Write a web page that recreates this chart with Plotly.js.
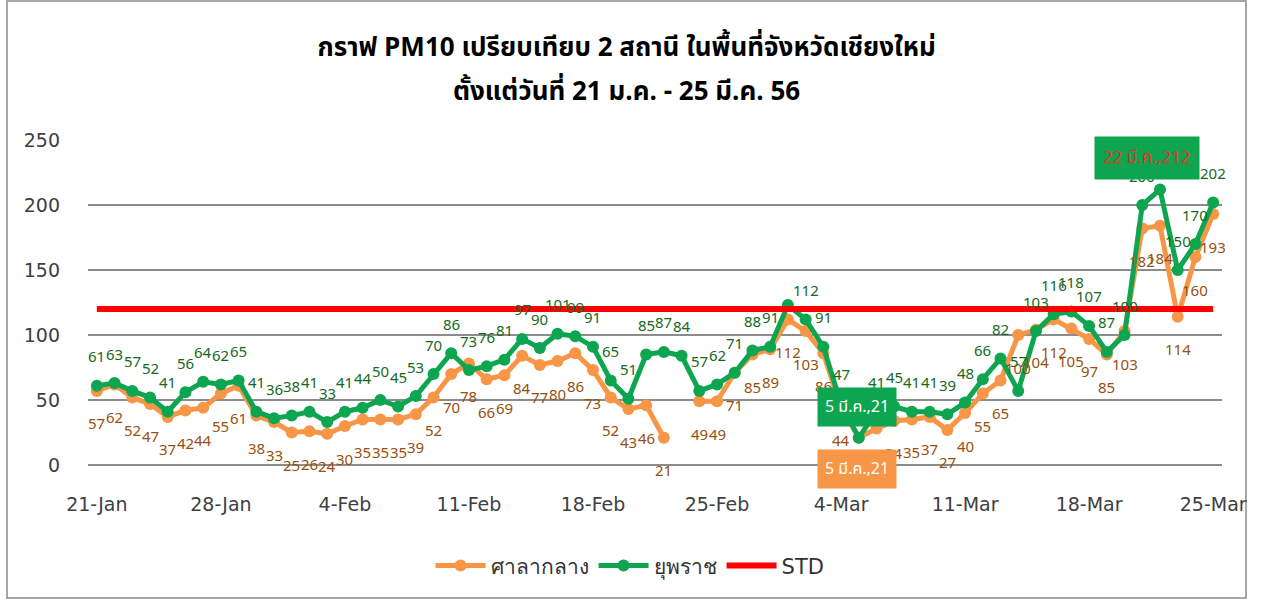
<!DOCTYPE html>
<html><head><meta charset="utf-8">
<script src="https://cdn.plot.ly/plotly-3.0.1.min.js"></script>
<style>html,body{margin:0;padding:0;background:#fff}#chart{width:1261px;height:601px}</style>
</head><body><div id="chart"></div>
<script>
const dates = [
 '2013-01-21','2013-01-22','2013-01-23','2013-01-24','2013-01-25','2013-01-26','2013-01-27','2013-01-28','2013-01-29','2013-01-30','2013-01-31',
 '2013-02-01','2013-02-02','2013-02-03','2013-02-04','2013-02-05','2013-02-06','2013-02-07','2013-02-08','2013-02-09','2013-02-10',
 '2013-02-11','2013-02-12','2013-02-13','2013-02-14','2013-02-15','2013-02-16','2013-02-17','2013-02-18','2013-02-19','2013-02-20',
 '2013-02-21','2013-02-22','2013-02-23','2013-02-24','2013-02-25','2013-02-26','2013-02-27','2013-02-28',
 '2013-03-01','2013-03-02','2013-03-03','2013-03-04','2013-03-05','2013-03-06','2013-03-07','2013-03-08','2013-03-09','2013-03-10',
 '2013-03-11','2013-03-12','2013-03-13','2013-03-14','2013-03-15','2013-03-16','2013-03-17','2013-03-18','2013-03-19','2013-03-20',
 '2013-03-21','2013-03-22','2013-03-23','2013-03-24','2013-03-25'
];
// ศาลากลาง
const salaklang = [
 57,62,52,47,37,42,44,55,61,
 38,33,25,26,24,
 30,35,35,35,39,52,70,
 78,66,69,84,77,80,86,73,52,43,
 46,21,null,49,49,71,85,89,
 112,103,86,44,21,
 28,34,35,37,27,40,55,65,
 100,104,112,105,97,85,103,
 182,184,114,160,193
];
// ยุพราช
const yupparat = [
 61,63,57,52,41,56,64,62,65,
 41,36,38,41,33,
 41,44,50,45,53,70,86,
 73,76,81,97,90,101,99,91,65,51,
 85,87,84,57,62,71,88,91,
 123,112,91,47,21,
 41,45,41,41,39,48,66,82,
 57,103,116,118,107,87,100,
 200,212,150,170,202
];
const stdValue = 120;
const seriesNames = ['ศาลากลาง','ยุพราช','STD'];
const titleLines = ['กราฟ PM10 เปรียบเทียบ 2 สถานี ในพื้นที่จังหวัดเชียงใหม่','ตั้งแต่วันที่ 21 ม.ค. - 25 มี.ค. 56'];
const tickDates = ['2013-01-21'];
// points whose own number label is not shown (replaced by callout or hidden)
const hiddenGreenLabels = [39, 43, 60];
const hiddenOrangeLabels = [43];
const callouts = [
 {series:'green', idx:43, text:'5 มี.ค.,21'},
 {series:'orange', idx:43, text:'5 มี.ค.,21'},
 {series:'green', idx:60, text:'22 มี.ค.,212'}
];

const ORANGE = '#F79646', GREEN = '#0DA54F', RED = '#FF0000';
const ORANGE_TXT = '#97500F', GREEN_TXT = '#16691E';
const FONT = "Tahoma, 'Noto Sans Thai', 'Noto Sans', 'DejaVu Sans', sans-serif";
const AXFONT = "'DejaVu Sans', Tahoma, sans-serif";

const traces = [
 {x: dates, y: salaklang, name: seriesNames[0], type:'scatter', mode:'lines+markers',
  line:{color:ORANGE, width:5}, marker:{color:ORANGE, size:12}, connectgaps:false, hoverinfo:'x+y'},
 {x: dates, y: yupparat, name: seriesNames[1], type:'scatter', mode:'lines+markers',
  line:{color:GREEN, width:5}, marker:{color:GREEN, size:12}, hoverinfo:'x+y'},
 {x: [dates[0], dates[dates.length-1]], y:[stdValue, stdValue], name: seriesNames[2], type:'scatter', mode:'lines',
  line:{color:RED, width:6}, hoverinfo:'y'}
];

const annotations = [];
salaklang.forEach((v,i)=>{
  if (v === null || hiddenOrangeLabels.includes(i)) return;
  annotations.push({x:dates[i], y:v, xref:'x', yref:'y', text:String(v), showarrow:false,
    yshift:-34, font:{family:FONT, size:15, color:ORANGE_TXT}});
});
yupparat.forEach((v,i)=>{
  if (v === null || hiddenGreenLabels.includes(i)) return;
  annotations.push({x:dates[i], y:v, xref:'x', yref:'y', text:String(v), showarrow:false,
    yshift:28, font:{family:FONT, size:15, color:GREEN_TXT}});
});
callouts.forEach(c=>{
  const arr = c.series === 'green' ? yupparat : salaklang;
  const isPeak = c.idx === 60;
  annotations.push({x:dates[c.idx], y:arr[c.idx], xref:'x', yref:'y', text:c.text,
    showarrow:true, arrowcolor:'rgba(0,0,0,0)', ax: isPeak ? -13 : -2, ay: isPeak ? -31 : (c.series==='green' ? -31 : 31),
    bgcolor: c.series==='green' ? '#0DA54F' : ORANGE, borderpad: isPeak ? 8 : 7,
    font:{family:FONT, size: isPeak ? 17 : 16, color: isPeak ? '#E8312B' : '#FFFFFF'}});
});
annotations.push({xref:'paper', yref:'paper', x:0.475, y:1.148, xanchor:'center', yanchor:'middle',
  text:'<b>'+titleLines[1]+'</b>', showarrow:false, font:{family:FONT, size:26, color:'#000'}});

const layout = {
  width:1261, height:601,
  margin:{l:88, r:39, t:140, b:136},
  paper_bgcolor:'#fff', plot_bgcolor:'#fff',
  title:{text:'<b>'+titleLines[0]+'</b>', x:0.497, xanchor:'center', y:1-47/601, yanchor:'middle',
    font:{family:FONT, size:26, color:'#000'}},
  showlegend:true,
  legend:{orientation:'h', x:0.478, xanchor:'center', y:-0.31, yanchor:'middle',
    font:{family:AXFONT, size:21, color:'#333'}, itemwidth:50, bgcolor:'rgba(0,0,0,0)'},
  xaxis:{type:'date', range:['2013-01-20 12:00','2013-03-25 12:00'], tickformat:'%-d-%b',
    tick0:tickDates[0], dtick:7*24*3600*1000, showgrid:false, zeroline:false, showline:false,
    ticks:'', ticklabelstandoff:26, tickfont:{family:AXFONT, size:19, color:'#404040'}, fixedrange:true},
  yaxis:{range:[0,250], dtick:50, showgrid:true, gridcolor:'#8c8c8c', gridwidth:1.3,
    zeroline:true, zerolinecolor:'#8c8c8c', zerolinewidth:1.3, showline:false, ticks:'',
    ticklabelstandoff:27, tickfont:{family:AXFONT, size:19, color:'#404040'}, fixedrange:true},
  annotations: annotations,
  shapes:[{type:'rect', xref:'paper', yref:'paper', x0:(7-88)/1134, x1:(1246-88)/1134,
    y0:(465-598)/325, y1:(465-1)/325, line:{color:'#8a8a8a', width:1.5}, fillcolor:'rgba(0,0,0,0)', layer:'below'}]
};
Plotly.newPlot('chart', traces, layout, {displayModeBar:false, staticPlot:true});
</script>
</body></html>
